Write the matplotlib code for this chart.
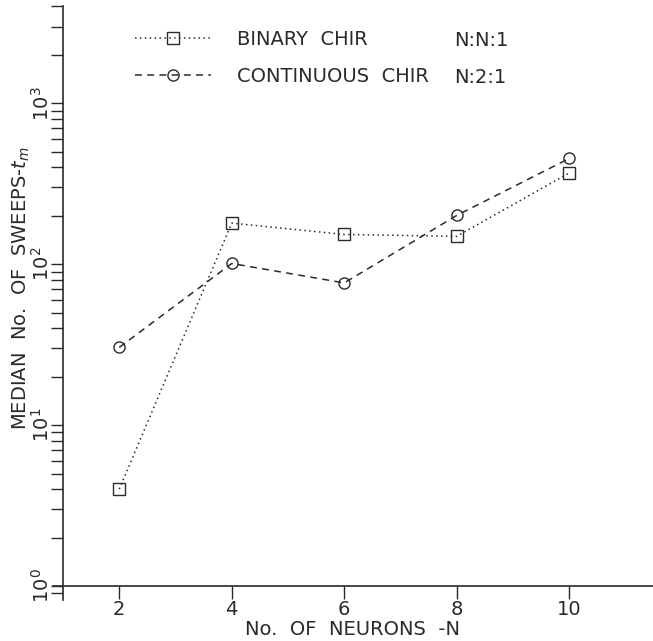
import matplotlib
matplotlib.use("Agg")
import matplotlib.pyplot as plt
from matplotlib.ticker import LogLocator, NullFormatter, FixedLocator

# ---- data ----
neurons = [2, 4, 6, 8, 10]
binary_chir = [4.0, 180, 153, 149, 369]
continuous_chir = [30.4, 101, 76.5, 201, 454]
labels = ["BINARY  CHIR", "CONTINUOUS  CHIR"]
arch = ["N:N:1", "N:2:1"]
xticks = [2, 4, 6, 8, 10]

plt.rcParams['font.family'] = ['DejaVu Sans']
FS = 14
ink = '#2a2a2a'

W, H = 653, 641
fig = plt.figure(figsize=(W / 100, H / 100), dpi=100)
# axes geometry in pixels
x1_px, px_per_unit = 63.0, 56.25
left_px = 52.9
y0_px, px_per_dec = 586.0, 161.0
bot_px = 600.0
top_px = 6.4
ax = fig.add_axes([left_px / W, (H - bot_px) / H, (W - left_px) / W, (bot_px - top_px) / H])
ax.set_yscale('log')
xl = 1 - (x1_px - left_px) / px_per_unit
xr = 1 + (W - x1_px) / px_per_unit
ax.set_xlim(xl, xr)
ax.set_ylim(10 ** (-(bot_px - y0_px) / px_per_dec), 4000)

for s in ['top', 'right']:
    ax.spines[s].set_visible(False)
ax.spines['left'].set_position(('data', 1))
ax.spines['bottom'].set_position(('data', 1))
for s in ['left', 'bottom']:
    ax.spines[s].set_color(ink)
    ax.spines[s].set_linewidth(1.2)

ax.plot(neurons, binary_chir, linestyle=(0, (1, 2.2)), color=ink, lw=1.1,
        marker='s', ms=8, mfc='none', mec=ink, mew=1.0, label=labels[0])
ax.plot(neurons, continuous_chir, linestyle=(0, (4.5, 3.5)), color=ink, lw=1.1,
        marker='o', ms=8, mfc='none', mec=ink, mew=1.0, label=labels[1])

ax.xaxis.set_major_locator(FixedLocator(xticks))
ax.set_xticklabels([str(v) for v in xticks])
ax.yaxis.set_major_locator(LogLocator(base=10, numticks=10))
ax.yaxis.set_minor_locator(LogLocator(base=10, subs=range(2, 10), numticks=20))
ax.yaxis.set_minor_formatter(NullFormatter())
ax.tick_params(axis='y', which='both', direction='out', length=9, width=1.0,
               color=ink, labelsize=FS, labelcolor=ink, labelrotation=90, pad=-2)
ax.tick_params(axis='x', which='both', direction='out', length=9, width=1.0,
               color=ink, labelsize=FS, labelcolor=ink, pad=1)
for t in ax.get_yticklabels():
    t.set_va('center')

ax.set_xlabel("No.  OF  NEURONS  -N", fontsize=FS, color=ink, labelpad=1)
ax.set_ylabel("MEDIAN  No.  OF  SWEEPS-$t_m$", fontsize=FS, color=ink)
ax.yaxis.set_label_coords(-0.035, 0.525)

leg = ax.legend(loc='upper left', bbox_to_anchor=(0.137, 0.96), frameon=False,
                fontsize=FS, handlelength=3.9, handletextpad=1.35, labelspacing=0.9,
                borderpad=0, borderaxespad=0, labelcolor=ink)
for i, a in enumerate(arch):
    ax.text(0.668, 0.943 - i * 0.0625, a, transform=ax.transAxes, fontsize=FS,
            color=ink, va='center', ha='left')

fig.savefig("out.png", dpi=100)
